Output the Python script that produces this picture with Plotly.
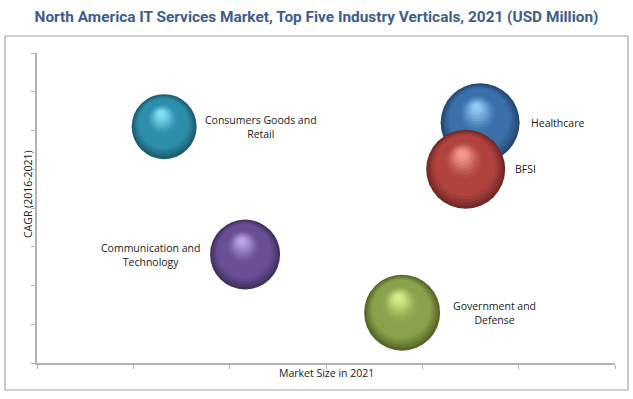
import plotly.graph_objects as go

# ---- data ----
segments = ["Consumers Goods and<br>Retail", "Healthcare", "BFSI",
            "Communication and<br>Technology", "Government and<br>Defense"]
market_size = [13.2, 46.0, 44.5, 21.6, 37.9]      # x (relative market size, 2021)
cagr = [12.2, 12.4, 10.0, 5.6, 2.6]               # y (relative CAGR 2016-2021)
bubble_size = [65, 79, 79, 70, 76]                # bubble value
label_shift = [97, 77, 60, -95, 92]               # label offset (px) from bubble centre

# colours: edge, mid, highlight
edge_colors = ["#1a5668", "#21426b", "#6a2624", "#3d2d58", "#4f5f24"]
mid_colors = ["#2d8eab", "#3b70ab", "#b1433e", "#6a4f94", "#8aa24c"]
hi_colors = ["#86e4f8", "#95ccf8", "#f89c92", "#bea6ea", "#d6f08c"]

W, H = 633, 399
L, R, T, B = 37, 18, 53, 36
X_RANGE, Y_RANGE = [0, 60], [0, 16]
N_LAYERS = 18
HL_UP, HL_LEFT = 0.42, 0.10   # highlight offset, fraction of radius

PX_X = (X_RANGE[1] - X_RANGE[0]) / (W - L - R)
PX_Y = (Y_RANGE[1] - Y_RANGE[0]) / (H - T - B)


def mix(c1, c2, t):
    t = max(0.0, min(1.0, t))
    a = [int(c1[i:i + 2], 16) for i in (1, 3, 5)]
    b = [int(c2[i:i + 2], 16) for i in (1, 3, 5)]
    return "#" + "".join(f"{round(a[k] + (b[k] - a[k]) * t):02x}" for k in range(3))


def shade(i, r):
    # r: normalised layer radius 0 (highlight) .. 1 (rim)
    if r < 0.5:
        s = r / 0.5
        return mix(hi_colors[i], mid_colors[i], s * s * (3 - 2 * s))
    if r < 0.74:
        return mid_colors[i]
    s = (r - 0.74) / 0.26
    return mix(mid_colors[i], edge_colors[i], s ** 1.2)


fig = go.Figure()
for i in range(len(segments)):
    rad_px = bubble_size[i] / 2
    for k in range(N_LAYERS):
        frac = 1 - k / N_LAYERS
        r_band = frac - 0.5 / N_LAYERS
        dx = -(1 - frac) * HL_LEFT * rad_px * PX_X
        dy = (1 - frac) * HL_UP * rad_px * PX_Y
        fig.add_trace(go.Scatter(
            x=[market_size[i] + dx], y=[cagr[i] + dy], mode="markers", hoverinfo="skip",
            marker=dict(size=[bubble_size[i] * frac], sizemode="diameter", sizeref=1,
                        color=shade(i, r_band), line=dict(width=0), opacity=1),
            showlegend=False))

label_font = dict(family="Open Sans, Liberation Sans, sans-serif", size=10.5, color="#1a1a1a")
annotations = []
for i in range(len(segments)):
    annotations.append(dict(x=market_size[i], y=cagr[i], xref="x", yref="y",
                            text=segments[i], showarrow=False, xshift=label_shift[i],
                            xanchor="center", yanchor="middle", align="center",
                            font=label_font))

annotations.append(dict(x=0.5, y=(363 - 373) / 310, xref="paper", yref="paper",
                        text="Market Size in 2021", showarrow=False,
                        xanchor="center", yanchor="middle", font=label_font))
annotations.append(dict(x=(28 - L) / 578, y=(363 - 194) / 310, xref="paper", yref="paper",
                        text="CAGR (2016-2021)", showarrow=False, textangle=-90,
                        xanchor="center", yanchor="middle", font=label_font))

axis_col = "#b3b3b3"
fig.update_layout(
    width=W, height=H,
    margin=dict(l=L, r=R, t=T, b=B),
    paper_bgcolor="white", plot_bgcolor="white",
    title=dict(text="<b>North America IT Services Market, Top Five Industry Verticals, 2021 (USD Million)</b>",
               x=0.5, xref="container", xanchor="center", y=1 - 17 / H, yanchor="middle",
               font=dict(family="Roboto, Liberation Sans, sans-serif",
                         size=15.4, color="#3d5e8c")),
    xaxis=dict(range=X_RANGE, dtick=10, showticklabels=False, ticks="outside", ticklen=4,
               tickcolor=axis_col, tickwidth=1, showline=True, linecolor=axis_col, linewidth=1.5,
               showgrid=False, zeroline=False, fixedrange=True),
    yaxis=dict(range=Y_RANGE, dtick=2, showticklabels=False, ticks="outside", ticklen=4,
               tickcolor=axis_col, tickwidth=1, showline=True, linecolor=axis_col, linewidth=1.5,
               showgrid=False, zeroline=False, fixedrange=True),
    annotations=annotations,
    shapes=[dict(type="rect", xref="paper", yref="paper",
                 x0=(5 - L) / 578, x1=(628 - L) / 578,
                 y0=(363 - 390) / 310, y1=(363 - 36) / 310,
                 line=dict(color="#a6a6a6", width=1.2), fillcolor="rgba(0,0,0,0)", layer="below")],
)

fig.write_html("out.html", config={"displayModeBar": False},
               post_script="document.body.style.margin='0';document.body.style.padding='0';")
